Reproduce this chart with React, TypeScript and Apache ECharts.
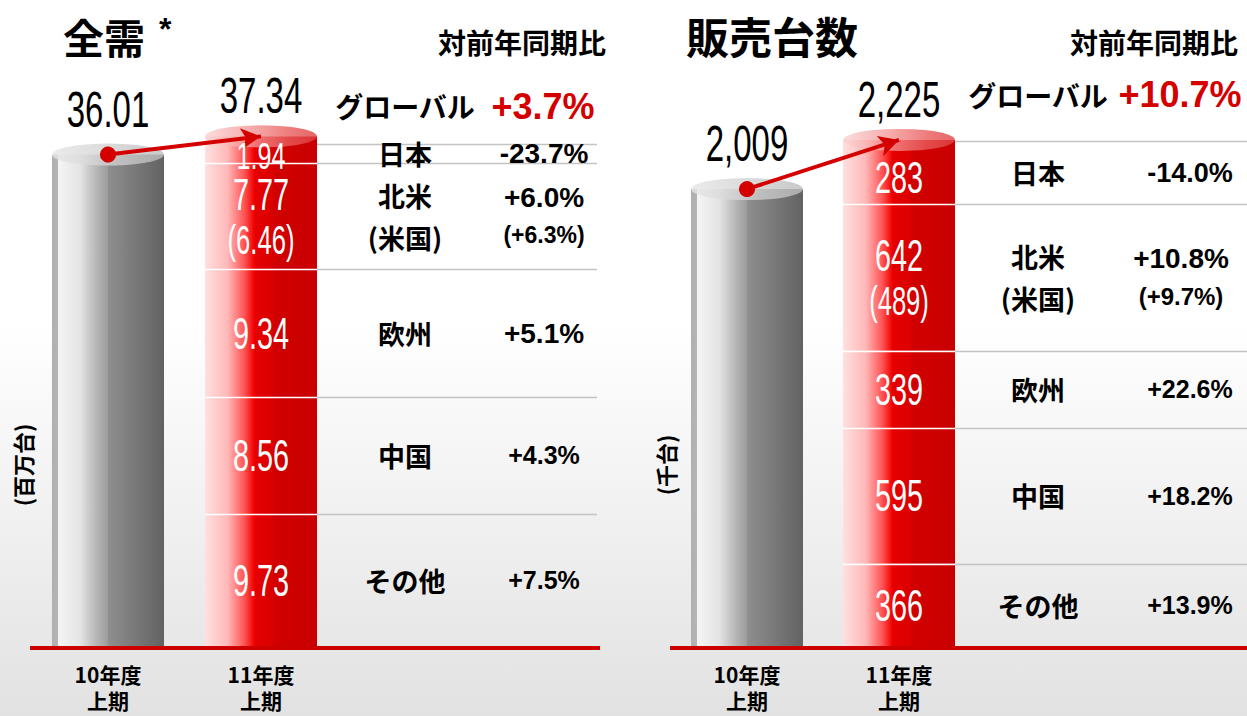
import React, { useEffect, useRef } from 'react';
import * as echarts from 'echarts';

// ---------- data ----------
const periods = ['10年度\n上期', '11年度\n上期'];
const regions = ['その他', '中国', '欧州', '北米', '日本']; // bottom -> top
const regionNames = ['その他', '中国', '欧州', '北米\n(米国)', '日本'];

// 全需 (百万台)
const demandPrev = 36.01;
const demandCurr = [9.73, 8.56, 9.34, 7.77, 1.94];
const demandTotal = 37.34;
const demandUSA = 6.46;
const demandGrowth = ['+7.5%', '+4.3%', '+5.1%', '+6.0%', '-23.7%'];
const demandUSAGrowth = '(+6.3%)';
const demandGlobal = '+3.7%';

// 販売台数 (千台)
const salesPrev = 2009;
const salesCurr = [366, 595, 339, 642, 283];
const salesTotal = 2225;
const salesUSA = 489;
const salesGrowth = ['+13.9%', '+18.2%', '+22.6%', '+10.8%', '-14.0%'];
const salesUSAGrowth = '(+9.7%)';
const salesGlobal = '+10.7%';

// ---------- styles ----------
const NUM_FONT = '"Liberation Sans", Arial, sans-serif';
const JP_FONT = '"Noto Sans CJK JP", sans-serif';
const PCT_FONT = '"Liberation Sans", Arial, sans-serif';
const RED = '#d40000';

const lg = (stops: [number, string][], vertical = false) =>
  new echarts.graphic.LinearGradient(0, 0, vertical ? 0 : 1, vertical ? 1 : 0,
    stops.map(([offset, color]) => ({ offset, color })));

const grayBody = () => lg([[0, '#b0b0b0'], [0.05, '#b4b4b4'], [0.055, '#f4f4f4'], [0.25, '#e4e4e4'], [0.4, '#b5b5b5'], [0.5, '#9c9c9c'], [0.505, '#8e8e8e'], [1, '#626262']]);
const redBody = () => lg([[0, '#ffe0e0'], [0.2, '#ffb8b8'], [0.35, '#ff5555'], [0.44, '#f20000'], [0.45, '#e40000'], [0.6, '#dc0000'], [0.61, '#d20000'], [1, '#c80000']]);
const grayTop = () => lg([[0, '#e6e6e6'], [0.5, '#d2d2d2'], [1, '#bcbcbc']]);
const redTop = () => lg([[0, '#fbd4d4'], [0.4, '#f49a9a'], [0.75, '#ea5c5c'], [1, '#e04040']]);

const panels = [
  {
    title: '全需', star: true, unit: '(百万台)', prev: demandPrev, curr: demandCurr, total: demandTotal,
    usa: demandUSA, growth: demandGrowth, usaGrowth: demandUSAGrowth, global: demandGlobal,
    fmt: (v: number) => v.toFixed(2),
  },
  {
    title: '販売台数', star: false, unit: '(千台)', prev: salesPrev, curr: salesCurr, total: salesTotal,
    usa: salesUSA, growth: salesGrowth, usaGrowth: salesUSAGrowth, global: salesGlobal,
    fmt: (v: number) => v.toLocaleString('en-US'),
  },
];

const layouts = [
  { gridLeft: 31.5, gridWidth: 306, yMax: 40, lineStart: 30, lineEnd: 600, tableEnd: 597, nameX: 405, pctX: 544, titleX: 60, compX: 522, unitX: 22, globalPctX: 543, topOffset: 8, globalUp: 38,
    pctSizes: [25, 25, 28, 28, 28], usaSize: 23, usaPctX: 544, naPctX: 544 },
  { gridLeft: 671, gridWidth: 304, yMax: 2400, lineStart: 670, lineEnd: 1247, tableEnd: 1247, nameX: 1038, pctX: 1190, titleX: 683, compX: 1154, unitX: 665, globalPctX: 1180, topOffset: 1, globalUp: 46,
    pctSizes: [25, 25, 25, 28, 27], usaSize: 24, usaPctX: 1181, naPctX: 1181 },
];

const BAR_W = 112;

function buildOption() {
  const grid: any[] = [];
  const xAxis: any[] = [];
  const yAxis: any[] = [];
  const series: any[] = [];
  const title: any[] = [];
  panels.forEach((p, i) => {
    const L = layouts[i];
    grid.push({ left: L.gridLeft, width: L.gridWidth, top: 100, bottom: 69 });
    xAxis.push({
      type: 'category', gridIndex: i, data: periods,
      axisLine: { show: false }, axisTick: { show: false },
      axisLabel: { margin: 14, color: '#000', fontFamily: JP_FONT, fontWeight: 'bold', fontSize: 21, lineHeight: 26 },
    });
    yAxis.push({ type: 'value', gridIndex: i, min: 0, max: L.yMax, show: false, splitLine: { show: false } });
    series.push({
      type: 'bar', xAxisIndex: i, yAxisIndex: i, stack: 's' + i, barWidth: BAR_W,
      data: [p.prev, '-'], itemStyle: { color: grayBody() }, silent: true,
    });
    p.curr.forEach((v, k) => {
      series.push({
        type: 'bar', name: regions[k], xAxisIndex: i, yAxisIndex: i, stack: 's' + i, barWidth: BAR_W,
        data: ['-', v], itemStyle: { color: redBody() }, silent: true,
      });
    });
    series.push({
      type: 'scatter', xAxisIndex: i, yAxisIndex: i, symbol: 'circle', symbolSize: [BAR_W, 22], z: 5, silent: true,
      data: [
        { value: [0, p.prev], itemStyle: { color: grayTop() } },
        { value: [1, p.total], itemStyle: { color: redTop() } },
      ],
      markLine: {
        silent: true, symbol: ['circle', 'arrow'], symbolSize: [16, 20], z: 10,
        lineStyle: { color: RED, width: 4, type: 'solid' }, itemStyle: { color: RED },
        label: { show: false }, emphasis: { disabled: true },
        data: [[{ coord: [0, p.prev] }, { coord: [1, p.total] }]],
      },
    });
    title.push({
      left: L.titleX - 2, top: 8,
      text: p.star ? `{t|${p.title}}{s|*}` : `{t|${p.title}}`,
      textStyle: {
        rich: {
          t: { fontFamily: JP_FONT, fontWeight: 'bold', fontSize: p.star ? 41 : 43, color: '#000' },
          s: { fontFamily: PCT_FONT, fontWeight: 'bold', fontSize: 32, color: '#000', verticalAlign: 'top', padding: [0, 0, 14, 14] },
        },
      },
    });
  });
  return {
    animation: false,
    backgroundColor: lg([[0, '#ffffff'], [0.45, '#ffffff'], [1, '#e2e2e2']], true),
    title, grid, xAxis, yAxis, series,
  };
}

function buildGraphics(chart: any) {
  const g: any[] = [];
  const txt = (text: string, x: number, y: number, fontSize: number, extra: any = {}) => ({
    type: 'text', x, y, z: 20, silent: true,
    style: {
      text, x: 0, y: 0, align: 'center', verticalAlign: 'middle', fill: '#000',
      fontFamily: JP_FONT, fontWeight: 'bold', fontSize, ...extra,
    },
  });
  const num = (text: string, x: number, y: number, fontSize: number, fill: string, sx = 0.64) => ({
    type: 'text', x, y, z: 25, silent: true, scaleX: sx,
    style: { text, x: 0, y: 0, align: 'center', verticalAlign: 'middle', fill, fontFamily: NUM_FONT, fontSize },
  });
  panels.forEach((p, i) => {
    const L = layouts[i];
    const px = (x: number, y: number) => chart.convertToPixel({ gridIndex: i }, [x, y]);
    const base = px(1, 0);
    const barL = base[0] - BAR_W / 2;
    const barR = base[0] + BAR_W / 2;
    // baseline
    g.push({ type: 'rect', z: 15, silent: true, shape: { x: L.lineStart, y: base[1] - 1, width: L.lineEnd - L.lineStart, height: 4 }, style: { fill: '#cc0000' } });
    // totals above cylinders
    const prevTop = px(0, p.prev);
    const currTop = px(1, p.total);
    g.push(num(p.fmt(p.prev), prevTop[0], prevTop[1] - 45, 50, '#000', 0.66));
    g.push(num(p.fmt(p.total), currTop[0], currTop[1] - 40, 50, '#000', 0.66));
    // row boundaries
    let cum = 0;
    const bounds: number[] = [base[1]];
    p.curr.forEach((v) => { cum += v; bounds.push(px(1, cum)[1]); });
    const topY = bounds[bounds.length - 1] + L.topOffset;
    const segBounds = bounds.slice();
    bounds[bounds.length - 1] = topY;
    for (let k = 1; k < bounds.length; k++) {
      const y = Math.round(bounds[k]) + 0.5;
      g.push({ type: 'line', z: 3, silent: true, shape: { x1: barR, y1: y, x2: L.tableEnd, y2: y }, style: { stroke: '#c4c4c4', lineWidth: 1.5 } });
      if (k < bounds.length - 1) {
        g.push({ type: 'line', z: 4, silent: true, shape: { x1: barL, y1: y, x2: barR, y2: y }, style: { stroke: '#ffffff', lineWidth: 1.5 } });
      }
    }
    // row texts
    const last = p.curr.length - 1;
    for (let k = 0; k < p.curr.length; k++) {
      const yMid = (bounds[k] + bounds[k + 1]) / 2;
      const isNA = regions[k] === '北米';
      const small = k === last && i === 0;
      const segMid = small ? (segBounds[k] + 11 + segBounds[k + 1]) / 2 + 1 : (segBounds[k] + segBounds[k + 1]) / 2 + (k === last ? 5 : 0);
      g.push(txt(regionNames[k], L.nameX, yMid, 27, { lineHeight: 42 }));
      if (isNA) {
        g.push(num(p.fmt(p.curr[k]), base[0], segMid - 22, 45, '#fff'));
        g.push(num(`(${p.fmt(p.usa)})`, base[0], segMid + 24, 40, '#fff'));
        g.push(txt(p.growth[k], L.naPctX, yMid - 19, L.pctSizes[k], { fontFamily: PCT_FONT }));
        g.push(txt(p.usaGrowth, L.usaPctX, yMid + 19, L.usaSize, { fontFamily: PCT_FONT }));
      } else {
        g.push(small ? num(p.fmt(p.curr[k]), base[0], segMid, 37, '#fff', 0.68) : num(p.fmt(p.curr[k]), base[0], segMid, 45, '#fff'));
        g.push(txt(p.growth[k], L.pctX, yMid, L.pctSizes[k], { fontFamily: PCT_FONT }));
      }
    }
    // global row
    g.push(txt('グローバル', L.nameX, topY - L.globalUp, 28));
    g.push(txt(p.global, L.globalPctX, topY - L.globalUp, 36, { fontFamily: PCT_FONT, fill: RED }));
    // header and unit
    g.push(txt('対前年同期比', L.compX, 42, 28));
    g.push({ ...txt(p.unit, L.unitX, 465, 22), rotation: Math.PI / 2 });
  });
  return g;
}

export default function App() {
  const ref = useRef<HTMLDivElement>(null);
  useEffect(() => {
    if (!ref.current) return;
    const chart = echarts.init(ref.current, null, { renderer: 'svg' });
    chart.setOption(buildOption());
    chart.setOption({ graphic: buildGraphics(chart) });
    return () => chart.dispose();
  }, []);
  return <div ref={ref} style={{ position: 'fixed', left: 0, top: 0, width: 1247, height: 716 }} />;
}
